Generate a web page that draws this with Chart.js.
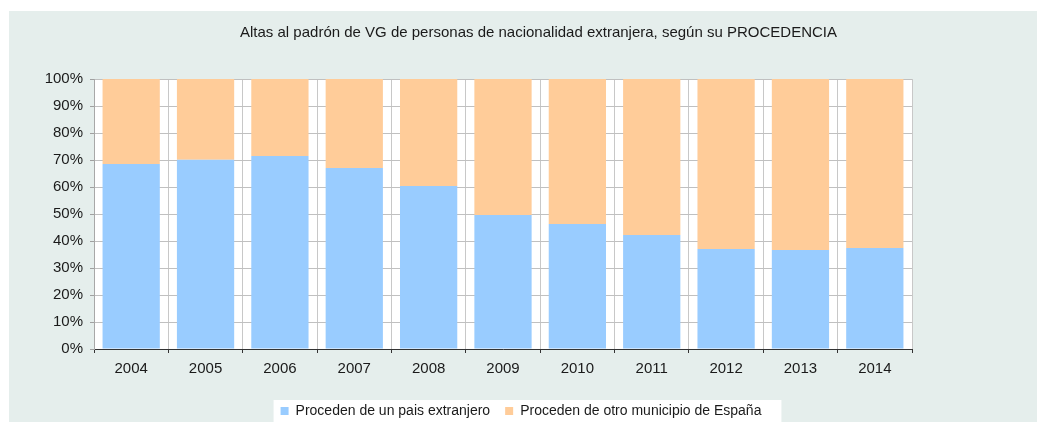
<!DOCTYPE html>
<html><head><meta charset="utf-8">
<script src="https://cdn.jsdelivr.net/npm/chart.js@4/dist/chart.umd.min.js"></script>
<style>html,body{margin:0;padding:0;background:#fff;overflow:hidden}#wrap{width:1037px;height:422px;position:relative}</style>
</head><body><div id="wrap"><canvas id="c" width="1037" height="422"></canvas></div>
<script>
const TITLE = 'Altas al padrón de VG de personas de nacionalidad extranjera, según su PROCEDENCIA';
const years = ['2004','2005','2006','2007','2008','2009','2010','2011','2012','2013','2014'];
const seriesNames = ['Proceden de un pais extranjero', 'Proceden de otro municipio de España'];
const extranjero = [68.5, 70.1, 71.5, 67.0, 60.4, 49.6, 46.3, 42.2, 37.0, 36.7, 37.4];
const otroMunicipio = [31.5, 29.9, 28.5, 33.0, 39.6, 50.4, 53.7, 57.8, 63.0, 63.3, 62.6];
const yTicks = [0,10,20,30,40,50,60,70,80,90,100];

const FONT = "'Liberation Sans', Arial, sans-serif";
Chart.defaults.font.family = FONT;
Chart.defaults.font.size = 15;
Chart.defaults.color = '#1a1a1a';

const bgPlugin = {
  id: 'bg',
  beforeDraw(chart) {
    const {ctx, chartArea: a} = chart;
    ctx.save();
    ctx.fillStyle = '#ffffff';
    ctx.fillRect(0, 0, chart.width, chart.height);
    ctx.fillStyle = '#e5eeec';
    ctx.fillRect(9, 11, chart.width - 9, chart.height - 11);
    ctx.fillStyle = '#ffffff';
    ctx.fillRect(a.left, a.top, a.right - a.left, a.bottom - a.top);
    const hb = chart.legend && chart.legend.legendHitBoxes;
    if (hb && hb.length) {
      const first = hb[0], last = hb[hb.length - 1];
      const x0 = first.left - 7, x1 = last.left + last.width + 20;
      ctx.fillRect(x0, 400, x1 - x0, chart.height - 400);
    }
    ctx.fillStyle = '#1a1a1a';
    ctx.font = '15px ' + FONT;
    ctx.textAlign = 'center';
    ctx.textBaseline = 'alphabetic';
    ctx.fillText(TITLE, 538.5, 37);
    ctx.restore();
  }
};

new Chart(document.getElementById('c'), {
  type: 'bar',
  data: {
    labels: years,
    datasets: [
      { label: seriesNames[0], data: extranjero, backgroundColor: '#99ccff', borderWidth: 0 },
      { label: seriesNames[1], data: otroMunicipio, backgroundColor: '#ffcc99', borderWidth: 0 }
    ]
  },
  options: {
    responsive: false,
    animation: false,
    devicePixelRatio: 1,
    layout: { padding: { top: 79, left: 5, right: 0, bottom: -6 } },
    datasets: { bar: { categoryPercentage: 1, barPercentage: 0.77 } },
    plugins: {
      title: { display: false },
      tooltip: { enabled: false },
      legend: {
        position: 'bottom',
        labels: { boxWidth: 8, boxHeight: 8, padding: 15, color: '#1a1a1a', font: { size: 14 } }
      }
    },
    scales: {
      x: {
        stacked: true,
        offset: true,
        grid: { display: true, offset: true, color: '#c8c8c8', tickColor: '#333333', tickLength: 4, drawOnChartArea: true },
        border: { display: true, color: '#333333', width: 1 },
        ticks: { padding: 7, color: '#1a1a1a', font: { size: 15 } },
        afterFit(s) { s.height = 40; }
      },
      y: {
        stacked: true,
        min: 0, max: 100,
        afterBuildTicks(s) { s.ticks = yTicks.map(v => ({ value: v })); },
        grid: { color: '#c0c0c0', tickColor: '#a0a0a0', tickLength: 4 },
        border: { display: true, color: '#a8a8a8' },
        ticks: { padding: 7, color: '#1a1a1a', font: { size: 15 }, callback: v => v + '%' },
        afterFit(s) { s.width = 89; }
      },
      yR: {
        position: 'right',
        display: true,
        grid: { display: false },
        border: { display: false },
        ticks: { display: false },
        afterFit(s) { s.width = 125; }
      }
    }
  },
  plugins: [bgPlugin]
});
</script>
</body></html>
